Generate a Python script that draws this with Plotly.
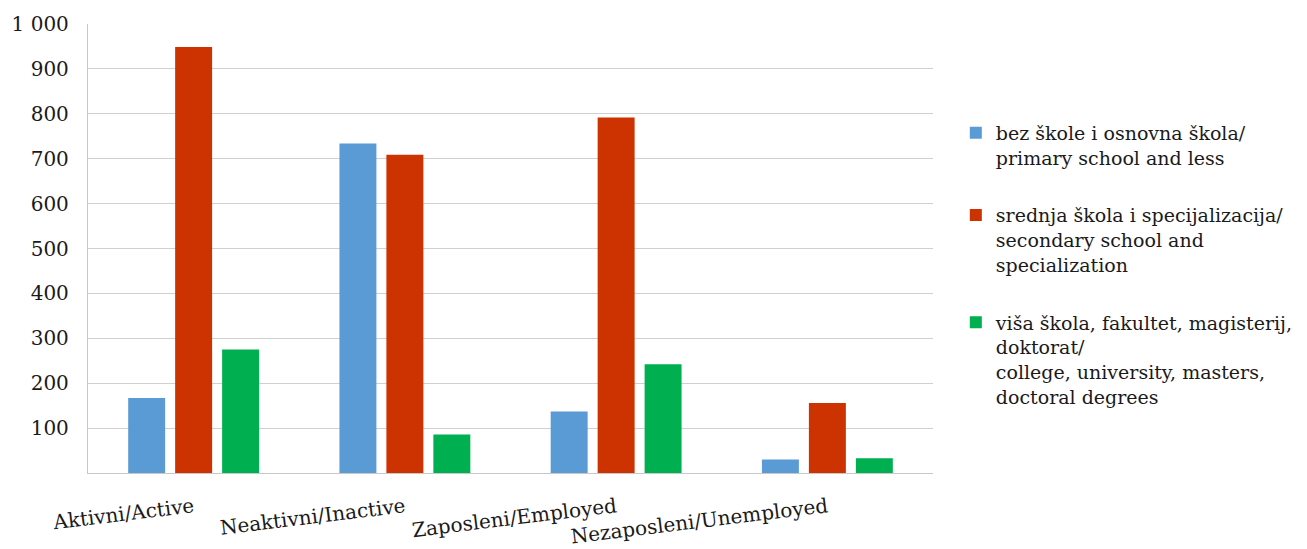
import plotly.graph_objects as go

categories = ["Aktivni/Active", "Neaktivni/Inactive", "Zaposleni/Employed", "Nezaposleni/Unemployed"]
series_names = [
    "bez škole i osnovna škola/<br>primary school and less",
    "srednja škola i specijalizacija/<br>secondary school and<br>specialization",
    "viša škola, fakultet, magisterij,<br>doktorat/<br>college, university, masters,<br>doctoral degrees",
]
primary = [167, 734, 137, 30]
secondary = [949, 709, 792, 156]
tertiary = [275, 86, 242, 33]
colors = ["#5B9BD5", "#CC3300", "#00B050"]
tick_vals = [100, 200, 300, 400, 500, 600, 700, 800, 900, 1000]
tick_text = ["100", "200", "300", "400", "500", "600", "700", "800", "900", "1 000"]

FONT = "DejaVu Serif"
FS = 20

fig = go.Figure()
for i, (name, vals) in enumerate(zip(series_names, [primary, secondary, tertiary])):
    fig.add_trace(go.Bar(
        x=categories, y=vals, name=name,
        marker=dict(color=colors[i], line=dict(width=0)),
        legendgroup=str(i),
    ))

fig.update_layout(
    width=1299, height=541,
    margin=dict(l=80, r=374, t=16, b=76, autoexpand=False),
    paper_bgcolor="white", plot_bgcolor="white",
    font=dict(family=FONT, size=FS, color="#1a1a1a"),
    barmode="group", bargap=0.333, bargroupgap=0.213,
    showlegend=True,
    legend=dict(
        x=1.027, xanchor="left", y=0.80, yanchor="top",
        font=dict(family=FONT, size=19, color="#1a1a1a"),
        valign="top", tracegroupgap=30, itemwidth=30,
        bgcolor="rgba(0,0,0,0)",
    ),
)
fig.update_yaxes(
    range=[0, 1000], tickvals=tick_vals, ticktext=tick_text,
    showgrid=True, gridcolor="#d0d0d0", gridwidth=1.3,
    showline=True, linecolor="#c8c8c8", linewidth=1.3,
    zeroline=False, ticks="", ticklabelstandoff=14, automargin=False,
    tickfont=dict(family=FONT, size=FS, color="#1a1a1a"),
)
fig.update_xaxes(
    showline=True, linecolor="#c8c8c8", linewidth=1.3,
    showgrid=False, ticks="", tickangle=-7, ticklabelstandoff=14, automargin=False,
    tickfont=dict(family=FONT, size=FS, color="#1a1a1a"),
)

fig.write_html("out.html")
